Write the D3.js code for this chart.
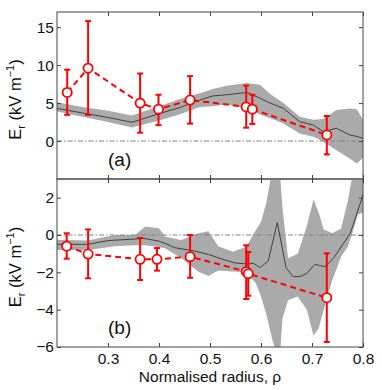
<!DOCTYPE html>
<html>
<head>
<meta charset="utf-8">
<script src="https://cdn.jsdelivr.net/npm/d3@7"></script>
<style>
  body { margin: 0; background: #fff; }
  text { font-family: "Liberation Sans", Arial, sans-serif; fill: #111; }
</style>
</head>
<body>
<script>
// ---- data ----
// panel (a)
const aLineRho = [0.20, 0.25, 0.30, 0.347, 0.40, 0.44, 0.48, 0.506, 0.533, 0.572, 0.598, 0.618, 0.644, 0.676, 0.703, 0.722, 0.748, 0.774, 0.788, 0.80];
const aLine    = [4.3, 3.7, 3.1, 2.47, 3.6, 4.4, 5.4, 5.95, 6.1, 6.4, 5.65, 5.0, 4.3, 2.55, 2.1, 1.24, 1.68, 0.8, 0.6, 0.35];
const aBandHi  = [5.1, 4.5, 4.0, 3.35, 4.6, 5.5, 6.3, 6.85, 7.3, 7.65, 7.4, 6.2, 5.0, 3.2, 2.8, 2.9, 4.1, 4.3, 4.2, 2.8];
const aBandLo  = [3.9, 3.2, 2.5, 1.8, 2.7, 3.5, 4.5, 4.6, 4.8, 4.3, 3.5, 3.0, 2.3, 1.0, 0.57, -0.1, -1.2, -2.3, -2.95, -2.2];

const aPtRho = [0.220, 0.261, 0.363, 0.399, 0.461, 0.571, 0.583, 0.729];
const aPt    = [6.4, 9.6, 5.0, 4.2, 5.4, 4.5, 4.2, 0.8];
const aPtHi  = [9.4, 15.8, 8.9, 6.1, 8.55, 7.3, 6.1, 3.3];
const aPtLo  = [3.45, 3.45, 1.1, 2.1, 2.3, 1.76, 2.25, -1.76];

// panel (b)
const bLineRho = [0.20, 0.26, 0.30, 0.35, 0.37, 0.40, 0.412, 0.431, 0.47, 0.497, 0.529, 0.55, 0.572, 0.585, 0.598, 0.614, 0.632, 0.649, 0.663, 0.676, 0.69, 0.706, 0.725, 0.742, 0.775, 0.80];
const bLine    = [-0.5, -0.5, -0.3, -0.22, -0.18, -0.33, -0.45, -0.68, -0.86, -1.04, -1.34, -1.5, -1.55, -1.52, -1.75, -1.4, 0.66, -1.75, -2.23, -2.23, -2.05, -1.57, -1.7, -1.25, 0.09, 2.14];

const bBandRho = [0.20, 0.26, 0.314, 0.353, 0.373, 0.40, 0.412, 0.444, 0.477, 0.497, 0.516, 0.545, 0.571, 0.59, 0.60, 0.611, 0.622, 0.632, 0.638, 0.642, 0.653, 0.672, 0.69, 0.703, 0.713, 0.723, 0.74, 0.757, 0.77, 0.778, 0.79, 0.80];
const bBandHi  = [-0.25, -0.3, 0.0, 0.0, 0.45, 0.36, -0.09, -0.27, 0.09, 0.2, -0.6, -0.9, -0.63, 0.27, 0.7, 1.8, 3.5, 4.0, 3.0, 1.5, -1.25, -1.0, 0.5, 1.9, 1.2, 0.3, 0.1, 0.35, 1.8, 3.0, 4.0, 4.0];
const bBandLo  = [-0.8, -0.8, -0.6, -0.55, -0.55, -0.65, -0.71, -1.25, -1.95, -2.2, -1.9, -1.95, -2.0, -2.6, -3.3, -4.3, -5.6, -6.5, -6.2, -4.5, -3.5, -3.3, -4.0, -5.4, -5.0, -4.0, -2.4, -1.16, -0.63, 0.0, 1.1, 1.2];

const bPtRho = [0.219, 0.261, 0.363, 0.396, 0.461, 0.571, 0.575, 0.729];
const bPt    = [-0.6, -1.02, -1.3, -1.3, -1.16, -1.96, -2.07, -3.36];
const bPtHi  = [0.09, 0.3, -0.16, -0.7, 0.0, -0.55, -0.91, -0.98];
const bPtLo  = [-1.27, -2.32, -2.41, -1.91, -2.29, -3.43, -3.25, -5.73];

const xTicks  = [0.3, 0.4, 0.5, 0.6, 0.7, 0.8];
const aYTicks = [0, 5, 10, 15];
const bYTicks = [-6, -4, -2, 0, 2];

// ---- layout ----
const width = 382, height = 390;
const left = 57, right = 363;

const svg = d3.select("body").append("svg")
    .attr("width", width)
    .attr("height", height);

const x = d3.scaleLinear().domain([0.2, 0.8]).range([left, right]);

const fmt = d => d3.format("")(d).replace("-", "\u2212");

function panel(cfg) {
    const y = d3.scaleLinear().domain(cfg.domain).range([cfg.bottom, cfg.top]);
    const g = svg.append("g");

    g.append("clipPath").attr("id", cfg.id)
      .append("rect")
        .attr("x", left).attr("y", cfg.top)
        .attr("width", right - left).attr("height", cfg.bottom - cfg.top);

    const plot = g.append("g").attr("clip-path", `url(#${cfg.id})`);

    // shaded band
    const band = cfg.bandRho.map((r, i) => ({ r, hi: cfg.bandHi[i], lo: cfg.bandLo[i] }));
    plot.append("path")
        .datum(band)
        .attr("fill", "#aaaaaa")
        .attr("d", d3.area().x(d => x(d.r)).y0(d => y(d.lo)).y1(d => y(d.hi)));

    // zero line
    plot.append("line")
        .attr("x1", left).attr("x2", right)
        .attr("y1", y(0)).attr("y2", y(0))
        .attr("stroke", "#808080")
        .attr("stroke-width", 1)
        .attr("stroke-dasharray", "5,2,1.5,2");

    // model line
    const line = cfg.lineRho.map((r, i) => ({ r, v: cfg.line[i] }));
    plot.append("path")
        .datum(line)
        .attr("fill", "none")
        .attr("stroke", "#333")
        .attr("stroke-width", 0.9)
        .attr("d", d3.line().x(d => x(d.r)).y(d => y(d.v)));

    // measurements
    const pts = cfg.ptRho.map((r, i) => ({ r, v: cfg.pt[i], hi: cfg.ptHi[i], lo: cfg.ptLo[i] }));
    plot.append("path")
        .datum(pts)
        .attr("fill", "none")
        .attr("stroke", "#ff0000")
        .attr("stroke-width", 2)
        .attr("stroke-dasharray", "6,4")
        .attr("d", d3.line().x(d => x(d.r)).y(d => y(d.v)));

    const eb = plot.append("g")
        .attr("stroke", "#ff0000")
        .attr("stroke-width", 2)
        .selectAll("g")
        .data(pts)
        .join("g");
    eb.append("line")
        .attr("x1", d => x(d.r)).attr("x2", d => x(d.r))
        .attr("y1", d => y(d.hi)).attr("y2", d => y(d.lo));
    eb.append("line")
        .attr("x1", d => x(d.r) - 3).attr("x2", d => x(d.r) + 3)
        .attr("y1", d => y(d.hi)).attr("y2", d => y(d.hi));
    eb.append("line")
        .attr("x1", d => x(d.r) - 3).attr("x2", d => x(d.r) + 3)
        .attr("y1", d => y(d.lo)).attr("y2", d => y(d.lo));

    plot.append("g")
        .selectAll("circle")
        .data(pts)
        .join("circle")
        .attr("cx", d => x(d.r))
        .attr("cy", d => y(d.v))
        .attr("r", 4.6)
        .attr("fill", "#fff")
        .attr("stroke", "#ff0000")
        .attr("stroke-width", 1.8);

    // axes with inward ticks on all sides
    const axL = g.append("g")
        .attr("transform", `translate(${left},0)`)
        .call(d3.axisLeft(y).tickValues(cfg.yTicks).tickSizeInner(-4).tickSizeOuter(0).tickPadding(3).tickFormat(fmt));
    const axR = g.append("g")
        .attr("transform", `translate(${right},0)`)
        .call(d3.axisRight(y).tickValues(cfg.yTicks).tickSizeInner(-4).tickSizeOuter(0).tickFormat(""));
    const axT = g.append("g")
        .attr("transform", `translate(0,${cfg.top})`)
        .call(d3.axisTop(x).tickValues(xTicks).tickSizeInner(-4).tickSizeOuter(0).tickFormat(""));
    const axB = g.append("g")
        .attr("transform", `translate(0,${cfg.bottom})`)
        .call(d3.axisBottom(x).tickValues(xTicks).tickSizeInner(-4).tickSizeOuter(0).tickPadding(6)
            .tickFormat(cfg.xLabels ? d3.format(".1f") : ""));

    [axL, axR, axT, axB].forEach(a => {
        a.select(".domain").remove();
        a.selectAll(".tick line").attr("stroke", "#444");
        a.selectAll("text").attr("font-size", 15.5).attr("fill", "#111")
            .attr("font-family", "Liberation Sans, Arial, sans-serif");
    });

    g.append("rect")
        .attr("x", left).attr("y", cfg.top)
        .attr("width", right - left).attr("height", cfg.bottom - cfg.top)
        .attr("fill", "none")
        .attr("stroke", "#444")
        .attr("stroke-width", 1);

    // y label
    const yl = g.append("text")
        .attr("transform", `translate(20.5,${(cfg.top + cfg.bottom) / 2 + 4}) rotate(-90)`)
        .attr("text-anchor", "middle")
        .attr("font-size", 16.5);
    yl.append("tspan").text("E");
    yl.append("tspan").attr("font-size", 11).attr("dy", 4).text("r");
    yl.append("tspan").attr("dy", -4).text(" (kV m");
    yl.append("tspan").attr("font-size", 11).attr("dy", -7).text("\u22121");
    yl.append("tspan").attr("dy", 7).text(")");

    g.append("text")
        .attr("x", 108).attr("y", cfg.labelY)
        .attr("font-size", 19)
        .text(cfg.label);
}

panel({
    id: "clipA", top: 12, bottom: 179, domain: [-5, 17], yTicks: aYTicks,
    bandRho: aLineRho, bandHi: aBandHi, bandLo: aBandLo,
    lineRho: aLineRho, line: aLine,
    ptRho: aPtRho, pt: aPt, ptHi: aPtHi, ptLo: aPtLo,
    label: "(a)", labelY: 166, xLabels: false
});

panel({
    id: "clipB", top: 179, bottom: 347, domain: [-6, 3], yTicks: bYTicks,
    bandRho: bBandRho, bandHi: bBandHi, bandLo: bBandLo,
    lineRho: bLineRho, line: bLine,
    ptRho: bPtRho, pt: bPt, ptHi: bPtHi, ptLo: bPtLo,
    label: "(b)", labelY: 334, xLabels: true
});

svg.append("text")
    .attr("x", (left + right) / 2)
    .attr("y", 382)
    .attr("text-anchor", "middle")
    .attr("font-size", 15.5)
    .text("Normalised radius, \u03c1");
</script>
</body>
</html>
